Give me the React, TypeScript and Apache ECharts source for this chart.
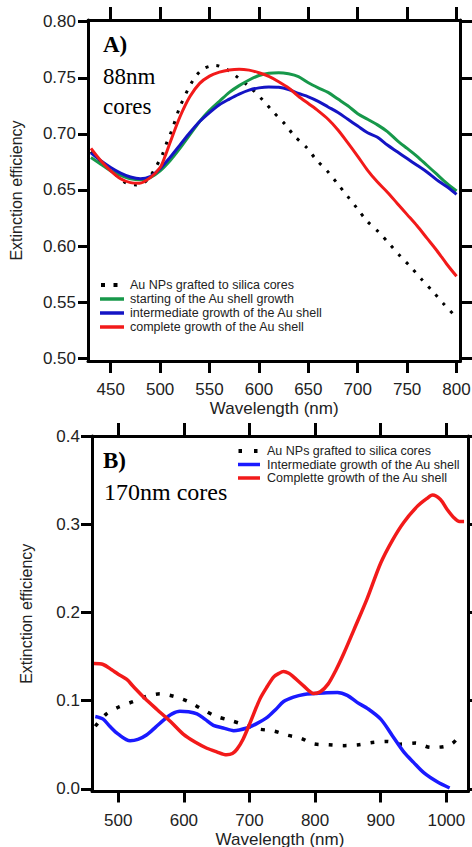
import React, { useEffect, useRef } from "react";
import * as echarts from "echarts";

// ---------- Panel A (88nm cores) ----------
const xTicksA = [450, 500, 550, 600, 650, 700, 750, 800];
const yTicksA = [0.5, 0.55, 0.6, 0.65, 0.7, 0.75, 0.8];

const namesA = [
  "Au NPs grafted to silica cores",
  "starting of the Au shell growth",
  "intermediate growth of the Au shell",
  "complete growth of the Au shell",
];

const graftedA: [number, number][] = [
  [430, 0.684], [440, 0.675], [452, 0.666], [464, 0.657], [476, 0.6545], [486, 0.658],
  [496, 0.671], [502, 0.681], [507, 0.693], [512, 0.7035], [520, 0.724], [533, 0.7474],
  [543, 0.7576], [556, 0.761], [567, 0.7576], [579, 0.75], [591, 0.7415], [604, 0.73],
  [614, 0.72], [626, 0.709], [636, 0.698], [648, 0.688], [658, 0.677], [670, 0.666],
  [680, 0.655], [690, 0.644], [699, 0.634], [709, 0.6226], [721, 0.6126], [732, 0.602],
  [743, 0.591], [754, 0.581], [765, 0.57], [776, 0.5594], [787, 0.5484], [798, 0.538], [800, 0.536],
];

const startingA: [number, number][] = [
  [430, 0.679], [440, 0.673], [450, 0.667], [460, 0.663], [470, 0.66], [480, 0.659],
  [490, 0.661], [500, 0.667], [510, 0.676], [520, 0.687], [530, 0.699], [540, 0.711],
  [550, 0.721], [560, 0.729], [570, 0.737], [580, 0.743], [590, 0.748], [600, 0.752],
  [610, 0.754], [620, 0.7545], [630, 0.7535], [640, 0.751], [650, 0.7455], [660, 0.741],
  [670, 0.737], [680, 0.731], [690, 0.725], [700, 0.718], [710, 0.713], [720, 0.708],
  [730, 0.702], [740, 0.694], [750, 0.687], [760, 0.68], [770, 0.672], [780, 0.664],
  [790, 0.656], [800, 0.649],
];

const intermediateA: [number, number][] = [
  [430, 0.683], [440, 0.676], [450, 0.67], [460, 0.665], [470, 0.6615], [480, 0.66],
  [490, 0.662], [500, 0.669], [510, 0.679], [520, 0.69], [530, 0.701], [540, 0.711],
  [550, 0.719], [560, 0.726], [570, 0.731], [580, 0.7355], [590, 0.739], [600, 0.741],
  [610, 0.7418], [620, 0.7415], [630, 0.7395], [640, 0.736], [650, 0.733], [660, 0.729],
  [670, 0.724], [680, 0.719], [690, 0.713], [700, 0.707], [710, 0.701], [720, 0.697],
  [730, 0.69], [740, 0.684], [750, 0.678], [760, 0.672], [770, 0.666], [780, 0.659],
  [790, 0.653], [800, 0.646],
];

const completeA: [number, number][] = [
  [430, 0.687], [440, 0.676], [450, 0.667], [460, 0.66], [470, 0.6565], [479, 0.656],
  [490, 0.661], [500, 0.67], [505, 0.68], [510, 0.692], [520, 0.715], [530, 0.733],
  [540, 0.745], [550, 0.7515], [560, 0.755], [570, 0.757], [580, 0.7577], [590, 0.7568],
  [600, 0.7545], [610, 0.7512], [620, 0.7465], [630, 0.741], [640, 0.7335], [650, 0.727],
  [660, 0.7205], [670, 0.713], [680, 0.7035], [690, 0.692], [700, 0.68], [710, 0.6675],
  [720, 0.657], [730, 0.648], [740, 0.638], [750, 0.628], [760, 0.618], [770, 0.607],
  [780, 0.596], [790, 0.584], [800, 0.573],
];

// ---------- Panel B (170nm cores) ----------
const xTicksB = [500, 600, 700, 800, 900, 1000];
const yTicksB = [0, 0.1, 0.2, 0.3, 0.4];

const namesB = [
  "Au NPs grafted to silica cores",
  "Intermediate growth of the Au shell",
  "Complette growth of the Au shell",
];

const graftedB: [number, number][] = [
  [465, 0.071], [482, 0.085], [500, 0.0925], [523, 0.099], [543, 0.1048], [564, 0.1078],
  [585, 0.1048], [607, 0.0988], [626, 0.091], [648, 0.0825], [671, 0.0775], [691, 0.073],
  [714, 0.0679], [737, 0.0655], [757, 0.061], [778, 0.0575], [798, 0.051], [821, 0.05],
  [844, 0.049], [867, 0.05], [887, 0.0526], [910, 0.0537], [930, 0.0507], [953, 0.0519],
  [976, 0.047], [997, 0.048], [1010, 0.052], [1020, 0.06],
];

const intermediateB: [number, number][] = [
  [465, 0.082], [477, 0.079], [487, 0.071], [500, 0.062], [518, 0.0545], [530, 0.056],
  [543, 0.061], [557, 0.07], [569, 0.078], [582, 0.085], [594, 0.088], [607, 0.0875],
  [620, 0.085], [632, 0.079], [645, 0.072], [660, 0.069], [676, 0.066], [696, 0.069],
  [711, 0.074], [727, 0.081], [740, 0.09], [752, 0.099], [767, 0.104], [783, 0.107],
  [800, 0.108], [818, 0.109], [834, 0.1093], [849, 0.106], [864, 0.098], [880, 0.091],
  [900, 0.079], [918, 0.06], [936, 0.041], [950, 0.03], [966, 0.018], [986, 0.008], [1005, 0.001],
];

const completeB: [number, number][] = [
  [463, 0.142], [477, 0.141], [490, 0.135], [500, 0.13], [513, 0.124], [523, 0.116],
  [540, 0.103], [559, 0.09], [580, 0.076], [599, 0.062], [617, 0.053], [635, 0.046],
  [650, 0.042], [665, 0.0386], [674, 0.04], [681, 0.045], [690, 0.056], [701, 0.075],
  [716, 0.102], [727, 0.116], [737, 0.127], [745, 0.131], [752, 0.133], [760, 0.131],
  [767, 0.127], [782, 0.117], [798, 0.108], [808, 0.11], [820, 0.119], [832, 0.135],
  [844, 0.154], [859, 0.18], [879, 0.215], [900, 0.256], [918, 0.282], [935, 0.302],
  [956, 0.3205], [970, 0.329], [979, 0.333], [991, 0.328], [1001, 0.317], [1012, 0.307],
  [1020, 0.303], [1027, 0.303],
];

const SANS = "Liberation Sans, Arial, sans-serif";
const SERIF = "Liberation Serif, Times New Roman, serif";
const TXT = "#222";
const RED = "#f21a1a";
const GREEN = "#17984a";
const BLUE_A = "#1414c4";
const BLUE_B = "#1a1aff";

function xAxis(gridIndex: number, pos: string, min: number, max: number, ticks: number[], label: boolean, tickLen: number) {
  return {
    type: "value",
    gridIndex,
    position: pos,
    min,
    max,
    axisLine: { show: true, onZero: false, lineStyle: { color: "#000", width: 3 } },
    axisTick: { show: true, inside: false, length: tickLen, customValues: ticks, lineStyle: { color: "#000", width: 3 } },
    axisLabel: label
      ? { show: true, customValues: ticks, margin: 20, fontSize: 17, color: TXT, fontFamily: SANS, formatter: (v: number) => String(v) }
      : { show: false },
    splitLine: { show: false },
    name: label ? "Wavelength (nm)" : "",
    nameLocation: "middle",
    nameGap: 39,
    nameMoveOverlap: false,
    nameTextStyle: { fontSize: 17, color: TXT, fontFamily: SANS },
  };
}

function yAxis(gridIndex: number, pos: string, min: number, max: number, ticks: number[], label: boolean, tickLen: number, digits: number, nameGap: number) {
  return {
    type: "value",
    gridIndex,
    position: pos,
    min,
    max,
    axisLine: { show: true, onZero: false, lineStyle: { color: "#000", width: 3 } },
    axisTick: { show: true, inside: false, length: tickLen, customValues: ticks, lineStyle: { color: "#000", width: 3 } },
    axisLabel: label
      ? {
          show: true,
          customValues: ticks,
          margin: 12,
          fontSize: 17,
          color: TXT,
          fontFamily: SANS,
          formatter: (v: number) => v.toFixed(digits),
        }
      : { show: false },
    splitLine: { show: false },
    name: label ? "Extinction efficiency" : "",
    nameLocation: "middle",
    nameGap,
    nameMoveOverlap: false,
    nameTextStyle: { fontSize: 16, color: TXT, fontFamily: SANS },
  };
}

function legendRow(x0: number, x1: number, tx: number, y: number, name: string, color: string, width: number, dash?: number[]) {
  return [
    {
      type: "line",
      shape: { x1: x0, y1: y, x2: x1, y2: y },
      style: { stroke: color, lineWidth: width, lineDash: dash || null, lineCap: "butt" },
    },
    {
      type: "text",
      x: tx,
      y,
      style: { text: name, font: `12.5px ${SANS}`, fill: TXT, verticalAlign: "middle" },
    },
  ];
}

export default function App() {
  const ref = useRef<HTMLDivElement>(null);
  useEffect(() => {
    if (!ref.current) return;
    const chart = echarts.init(ref.current, null, { renderer: "svg" });
    const option: any = {
      animation: false,
      backgroundColor: "#fff",
      grid: [
        { left: 88, width: 372.5, top: 20, height: 341, outerBoundsMode: "none", containLabel: false },
        { left: 92, width: 376, top: 436, height: 355.5, outerBoundsMode: "none", containLabel: false },
      ],
      xAxis: [
        xAxis(0, "bottom", 427, 804, xTicksA, true, 12),
        xAxis(0, "top", 427, 804, xTicksA, false, 13),
        xAxis(1, "bottom", 460, 1033, xTicksB, true, 11),
        xAxis(1, "top", 460, 1033, xTicksB, false, 13),
      ],
      yAxis: [
        yAxis(0, "left", 0.4975, 0.8015, yTicksA, true, 10, 2, 64),
        yAxis(0, "right", 0.4975, 0.8015, yTicksA, false, 12, 2, 0),
        yAxis(1, "left", -0.003, 0.4, yTicksB, true, 11, 1, 58),
        yAxis(1, "right", -0.003, 0.4, yTicksB, false, 12, 1, 0),
      ],
      graphic: [
        { type: "text", x: 103, y: 44, style: { text: "A)", font: `bold 23px ${SERIF}`, fill: "#000", verticalAlign: "middle" } },
        { type: "text", x: 103, y: 76, style: { text: "88nm", font: `23px ${SERIF}`, fill: "#000", verticalAlign: "middle" } },
        { type: "text", x: 103, y: 106, style: { text: "cores", font: `23px ${SERIF}`, fill: "#000", verticalAlign: "middle" } },
        { type: "text", x: 103, y: 460, style: { text: "B)", font: `bold 23px ${SERIF}`, fill: "#000", verticalAlign: "middle" } },
        { type: "text", x: 104, y: 492, style: { text: "170nm cores", font: `24px ${SERIF}`, fill: "#000", verticalAlign: "middle" } },
        ...legendRow(101, 118, 130, 285, namesA[0], "#000", 4, [4, 8.5]),
        ...legendRow(100, 124, 130, 299, namesA[1], GREEN, 3.5),
        ...legendRow(100, 124, 130, 313, namesA[2], BLUE_A, 3.5),
        ...legendRow(100, 124, 130, 327, namesA[3], RED, 3.5),
        ...legendRow(238.5, 258, 267, 451, namesB[0], "#000", 4, [3.5, 12]),
        ...legendRow(238, 260, 267, 464.5, namesB[1], BLUE_B, 3.5),
        ...legendRow(238, 260, 267, 478, namesB[2], RED, 3.5),
      ],
      series: [
        {
          name: namesA[0], type: "line", xAxisIndex: 0, yAxisIndex: 0, data: graftedA, symbol: "none", smooth: 0.3,
          lineStyle: { color: "#000", width: 3, type: [3, 8], cap: "butt" },
        },
        {
          name: namesA[1], type: "line", xAxisIndex: 0, yAxisIndex: 0, data: startingA, symbol: "none", smooth: 0.3,
          lineStyle: { color: GREEN, width: 3 },
        },
        {
          name: namesA[2], type: "line", xAxisIndex: 0, yAxisIndex: 0, data: intermediateA, symbol: "none", smooth: 0.3,
          lineStyle: { color: BLUE_A, width: 3 },
        },
        {
          name: namesA[3], type: "line", xAxisIndex: 0, yAxisIndex: 0, data: completeA, symbol: "none", smooth: 0.3,
          lineStyle: { color: RED, width: 3 },
        },
        {
          name: "B " + namesB[0], type: "line", xAxisIndex: 2, yAxisIndex: 2, data: graftedB, symbol: "none", smooth: 0.3,
          lineStyle: { color: "#000", width: 3.5, type: [4, 10], cap: "butt" },
        },
        {
          name: namesB[1], type: "line", xAxisIndex: 2, yAxisIndex: 2, data: intermediateB, symbol: "none", smooth: 0.3,
          lineStyle: { color: BLUE_B, width: 3.5 },
        },
        {
          name: namesB[2], type: "line", xAxisIndex: 2, yAxisIndex: 2, data: completeB, symbol: "none", smooth: 0.3,
          lineStyle: { color: RED, width: 3.5 },
        },
      ],
    };
    chart.setOption(option);
    return () => chart.dispose();
  }, []);
  return (
    <div
      ref={ref}
      style={{ position: "fixed", left: 0, top: 0, width: 472, height: 847, background: "#fff" }}
    />
  );
}
